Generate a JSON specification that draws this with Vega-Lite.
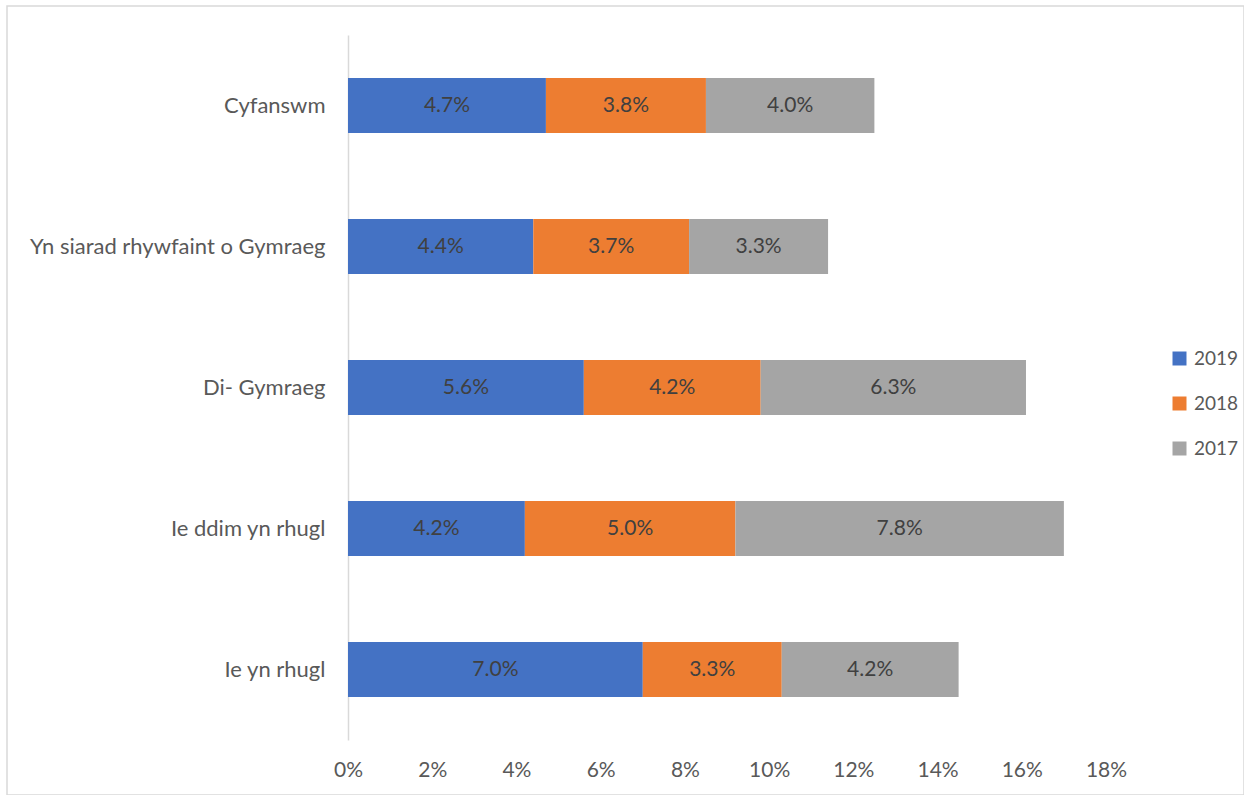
{
  "$schema": "https://vega.github.io/schema/vega-lite/v6.json",
  "width": 1237,
  "height": 789,
  "autosize": {"type": "none"},
  "padding": {"left": 7, "top": 6, "right": 0, "bottom": 0},
  "background": "white",
  "config": {
    "view": {"stroke": "#d9d9d9", "strokeWidth": 1.5},
    "font": "Lato"
  },
  "data": {
    "values": [
      {"category": "Cyfanswm", "year": "2019", "value": 0.047},
      {"category": "Cyfanswm", "year": "2018", "value": 0.038},
      {"category": "Cyfanswm", "year": "2017", "value": 0.040},
      {"category": "Yn siarad rhywfaint o Gymraeg", "year": "2019", "value": 0.044},
      {"category": "Yn siarad rhywfaint o Gymraeg", "year": "2018", "value": 0.037},
      {"category": "Yn siarad rhywfaint o Gymraeg", "year": "2017", "value": 0.033},
      {"category": "Di- Gymraeg", "year": "2019", "value": 0.056},
      {"category": "Di- Gymraeg", "year": "2018", "value": 0.042},
      {"category": "Di- Gymraeg", "year": "2017", "value": 0.063},
      {"category": "Ie ddim yn rhugl", "year": "2019", "value": 0.042},
      {"category": "Ie ddim yn rhugl", "year": "2018", "value": 0.050},
      {"category": "Ie ddim yn rhugl", "year": "2017", "value": 0.078},
      {"category": "Ie yn rhugl", "year": "2019", "value": 0.070},
      {"category": "Ie yn rhugl", "year": "2018", "value": 0.033},
      {"category": "Ie yn rhugl", "year": "2017", "value": 0.042}
    ]
  },
  "transform": [
    {"stack": "value", "groupby": ["category"], "sort": [{"field": "year", "order": "descending"}], "as": ["v0", "v1"]},
    {"calculate": "(datum.v0 + datum.v1) / 2", "as": "mid"}
  ],
  "encoding": {
    "y": {
      "field": "category",
      "type": "nominal",
      "sort": ["Cyfanswm", "Yn siarad rhywfaint o Gymraeg", "Di- Gymraeg", "Ie ddim yn rhugl", "Ie yn rhugl"],
      "scale": {"range": [29, 734], "paddingInner": 0.61, "paddingOuter": 0.305},
      "axis": {
        "title": null,
        "offset": -341,
        "ticks": false,
        "labelPadding": 23,
        "labelFontSize": 22,
        "labelLimit": 0,
        "labelColor": "#595959",
        "labelFont": "Lato",
        "domainColor": "#d9d9d9",
        "domainWidth": 1.5
      }
    }
  },
  "layer": [
    {
      "mark": {"type": "bar"},
      "encoding": {
        "x": {
          "field": "v0",
          "type": "quantitative",
          "scale": {"domain": [0, 0.18], "range": [341, 1099], "nice": false, "zero": true},
          "axis": {
            "title": null,
            "format": ".0%",
            "values": [0, 0.02, 0.04, 0.06, 0.08, 0.1, 0.12, 0.14, 0.16, 0.18],
            "grid": false,
            "domain": false,
            "ticks": false,
            "labelFlush": false,
            "labelOverlap": false,
            "offset": -55,
            "labelPadding": 19,
            "labelFontSize": 21,
            "labelColor": "#595959",
            "labelFont": "Lato"
          }
        },
        "x2": {"field": "v1"},
        "color": {
          "field": "year",
          "type": "nominal",
          "scale": {"domain": ["2019", "2018", "2017"], "range": ["#4472C4", "#ED7D31", "#A5A5A5"]},
          "legend": {
            "title": null,
            "orient": "none",
            "legendX": 1163,
            "legendY": 343,
            "padding": 0,
            "symbolType": "square",
            "symbolSize": 196,
            "symbolStrokeWidth": 0,
            "labelFontSize": 19,
            "labelColor": "#595959",
            "labelFont": "Lato",
            "labelOffset": 5,
            "rowPadding": 25
          }
        }
      }
    },
    {
      "mark": {"type": "text", "fontSize": 21, "color": "#404040", "font": "Lato"},
      "encoding": {
        "x": {"field": "mid", "type": "quantitative"},
        "text": {"field": "value", "type": "quantitative", "format": ".1%"}
      }
    }
  ]
}
